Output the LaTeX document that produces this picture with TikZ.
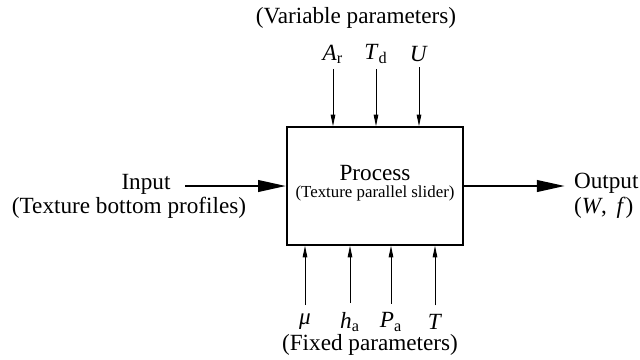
\documentclass[tikz,border=0pt]{standalone}
\usepackage{fontspec}
\setmainfont{Liberation Serif}
\usepackage{tikz}
\usetikzlibrary{arrows.meta,positioning,calc}
\tikzset{
  procbox/.style={draw,line width=1pt,minimum width=3.52cm,minimum height=2.36cm,inner sep=0pt},
  param/.style={-{Triangle[length=6.5pt,width=2.6pt]},line width=0.5pt},
  flow/.style={-{Triangle[length=16pt,width=6.5pt]},line width=1.5pt},
  lbl/.style={font=\fontsize{13.2}{14.5}\selectfont,inner sep=1pt},
}
\newcommand{\var}[2]{\textit{#1}\textsubscript{#2}}

\begin{document}
\begin{tikzpicture}[x=0.02cm,y=-0.02cm]
    \useasboundingbox (0,0) rectangle (640,359);
    \node[procbox] (proc) at (375,186) {};
    \node[lbl] (ptitle) at (375,173) {Process};
    \node[font=\fontsize{9.6}{10}\selectfont,inner sep=1pt] (psub) at (375,193) {(Texture parallel slider)};

    % variable parameters
    \node[lbl] (var) at (356,18) {(Variable parameters)};
    \node[lbl] (Ar) at (333,54) {\var{A}{r}};
    \node[lbl] (Td) at (376,54) {\var{T}{d}};
    \node[lbl] (U) at (419,54) {\textit{U}};
    \foreach \p in {Ar,Td,U}
      \draw[param] ([yshift=-2pt]\p.south) -- (\p |- proc.north);

    % fixed parameters
    \node[lbl] (mu) at (305,322) {\textit{μ}};
    \node[lbl] (ha) at (350,322) {\var{h}{a}};
    \node[lbl] (Pa) at (391,322) {\var{P}{a}};
    \node[lbl] (T) at (435,322) {\textit{T}};
    \node[lbl] (fix) at (370,345) {(Fixed parameters)};
    \foreach \p in {mu,ha,Pa,T}
      \draw[param] ([yshift=4pt]\p.north) -- (\p |- proc.south);

    % input / output
    \node[lbl] (in) at (146,184) {Input};
    \node[lbl] (inB) at (129,208) {(Texture bottom profiles)};
    \coordinate (inA) at (185,186);
    \draw[flow] (inA) -- (proc.west);
    \node[lbl,align=left,anchor=west] (out) at (572,196) {Output\\(\textit{W},\, \textit{f})};
    \coordinate (outA) at (565,186);
    \draw[flow] (proc.east) -- (outA);
  \end{tikzpicture}
\end{document}
